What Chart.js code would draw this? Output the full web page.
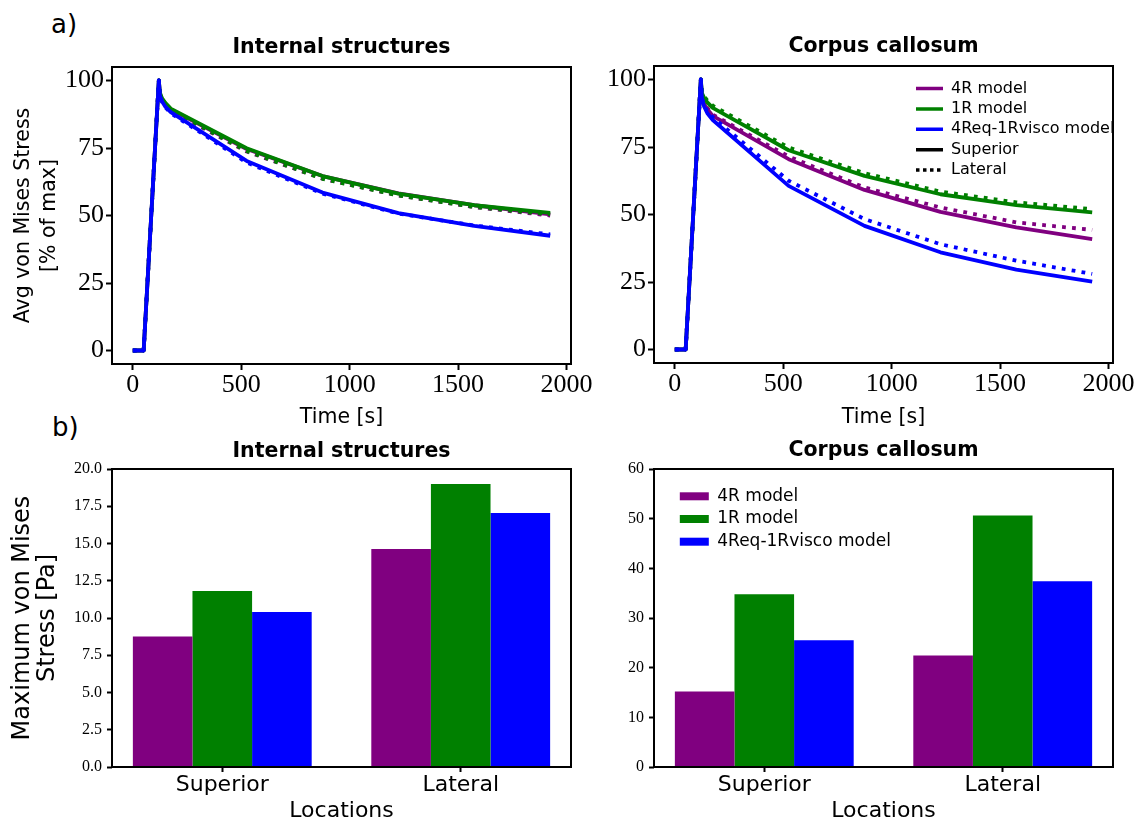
<!DOCTYPE html>
<html>
<head>
<meta charset="utf-8">
<script src="https://cdn.jsdelivr.net/npm/chart.js@4.4.1/dist/chart.umd.min.js"></script>
<style>
html, body { margin: 0; padding: 0; background: #fff; width: 1142px; height: 821px; overflow: hidden; position: relative; }
canvas { position: absolute; }
.lbl { position: absolute; font-family: 'DejaVu Sans', Verdana, sans-serif; font-size: 26px; line-height: 1; color: #000; white-space: nowrap; }
</style>
</head>
<body>
<div class="lbl" style="left:51px; top:11px;">a)</div>
<div class="lbl" style="left:52px; top:414px;">b)</div>
<canvas id="cA" width="600" height="440" style="left:0px; top:0px;"></canvas>
<canvas id="cB" width="562" height="440" style="left:580px; top:0px;"></canvas>
<canvas id="cC" width="600" height="405" style="left:0px; top:425px;"></canvas>
<canvas id="cD" width="562" height="405" style="left:580px; top:425px;"></canvas>
<script>
// ---------------- DATA ----------------
const models = ['4R model', '1R model', '4Req-1Rvisco model'];
const locations = ['Superior', 'Lateral'];
const modelColors = ['#800080', '#008000', '#0000ff'];

// a) Avg von Mises stress [% of max] vs time [s]
const timeS = [0, 50, 120, 125, 135, 150, 175, 525, 875, 1225, 1575, 1925];
// Internal structures
const intSup4R   = [0, 0, 100, 95.0, 93.0, 91.3, 89.3, 74.6, 64.6, 58.2, 53.8, 50.4];
const intSup1R   = [0, 0, 100, 95.5, 93.4, 91.7, 89.6, 74.9, 64.6, 58.1, 53.8, 51.0];
const intSup4Req = [0, 0, 100, 94.5, 92.2, 90.3, 88.3, 70.2, 58.5, 50.9, 46.2, 42.5];
const intLat4R   = [0, 0, 100, 95.0, 92.8, 91.0, 88.8, 73.7, 63.6, 57.4, 53.1, 50.0];
const intLat1R   = [0, 0, 100, 95.3, 93.1, 91.3, 89.1, 73.9, 63.6, 57.4, 53.2, 50.4];
const intLat4Req = [0, 0, 100, 94.3, 92.0, 90.0, 87.9, 69.6, 58.1, 50.7, 46.3, 43.0];
// Corpus callosum
const ccSup4R    = [0, 0, 100, 93.5, 91.0, 89.0, 86.5, 70.5, 59.1, 51.0, 45.2, 40.9];
const ccSup1R    = [0, 0, 100, 95.0, 93.2, 91.5, 89.5, 73.8, 64.3, 57.5, 53.5, 50.8];
const ccSup4Req  = [0, 0, 100, 93.0, 90.0, 87.5, 85.0, 60.6, 45.8, 36.0, 29.6, 25.1];
const ccLat4R    = [0, 0, 100, 94.0, 91.5, 89.5, 87.0, 71.5, 60.0, 52.6, 47.1, 44.3];
const ccLat1R    = [0, 0, 100, 95.5, 93.8, 92.2, 90.3, 74.8, 65.3, 58.5, 54.5, 52.0];
const ccLat4Req  = [0, 0, 100, 93.3, 90.5, 88.2, 86.0, 62.5, 48.3, 39.0, 32.9, 28.0];

// b) Maximum von Mises stress [Pa] per location (Superior, Lateral)
const intMax4R   = [8.76, 14.63];
const intMax1R   = [11.81, 19.0];
const intMax4Req = [10.40, 17.04];
const ccMax4R    = [15.2, 22.45];
const ccMax1R    = [34.8, 50.66];
const ccMax4Req  = [25.5, 37.42];

// tick values
const timeTicks = [0, 500, 1000, 1500, 2000];
const pctTicks = [0, 25, 50, 75, 100];
const intBarTicks = [0, 2.5, 5, 7.5, 10, 12.5, 15, 17.5, 20];
const ccBarTicks = [0, 10, 20, 30, 40, 50, 60];
const locTicks = [0, 1];

// ---------------- STYLE ----------------
const SERIF = "'Liberation Serif', 'Times New Roman', serif";
const SANS = "'DejaVu Sans', Verdana, sans-serif";
Chart.defaults.color = '#000';
Chart.defaults.font.family = SANS;
Chart.defaults.animation = false;
const LW = 3.8;
const DOTS = [3.8, 6.2];

const frame = {
  id: 'frame',
  afterDatasetsDraw(chart) {
    const { ctx, chartArea: a } = chart;
    ctx.save();
    ctx.strokeStyle = '#000';
    ctx.lineWidth = 2;
    ctx.strokeRect(a.left, a.top, a.right - a.left, a.bottom - a.top);
    ctx.restore();
  }
};
const legendPlace = {
  id: 'legendPlace',
  afterLayout(chart, args, opts) {
    const lg = chart.legend;
    if (!lg || opts.x === undefined) return;
    const pad = lg.options.labels.padding;
    const dx = opts.x - pad - lg.left, dy = opts.y - pad - lg.top;
    lg.left += dx; lg.right += dx; lg.top += dy; lg.bottom += dy;
  }
};

function tickGrid(len) {
  return { display: true, drawOnChartArea: false, drawTicks: true, tickLength: len, tickWidth: 2, tickColor: '#000', offset: false };
}

function lineChart(id, sup, lat, cfg) {
  const datasets = [];
  models.forEach((m, i) => {
    datasets.push({
      label: m + ' - ' + locations[0],
      data: timeS.map((t, k) => ({ x: t, y: sup[i][k] })),
      borderColor: modelColors[i], backgroundColor: modelColors[i],
      borderWidth: LW, pointRadius: 0, fill: false, tension: 0,
      borderCapStyle: 'butt', borderJoinStyle: 'round'
    });
    datasets.push({
      label: m + ' - ' + locations[1],
      data: timeS.map((t, k) => ({ x: t, y: lat[i][k] })),
      borderColor: modelColors[i], backgroundColor: modelColors[i],
      borderWidth: LW, borderDash: DOTS, pointRadius: 0, fill: false, tension: 0,
      borderCapStyle: 'butt', borderJoinStyle: 'round'
    });
  });
  datasets.forEach((d, i) => { d.order = datasets.length - i; });

  const legendOpts = cfg.legend ? {
    display: true, position: 'chartArea', fullSize: false, align: 'start',
    labels: {
      font: { family: SANS, size: 16 }, usePointStyle: true, pointStyleWidth: 27, boxHeight: 16,
      padding: 4.4, color: '#000',
      generateLabels: () => [
        ...models.map((m, i) => ({ text: m, strokeStyle: modelColors[i], fillStyle: modelColors[i], lineWidth: 3.5, lineDash: [], lineCap: 'butt', pointStyle: 'line', hidden: false, fontColor: '#000', datasetIndex: 2 * i })),
        ...locations.map((l, i) => ({ text: l, strokeStyle: '#000', fillStyle: '#000', lineWidth: 3.5, lineDash: i ? [3.5, 3.5] : [], lineCap: 'butt', pointStyle: 'line', hidden: false, fontColor: '#000' }))
      ]
    }
  } : { display: false };

  return new Chart(document.getElementById(id), {
    type: 'line',
    data: { datasets },
    plugins: [frame, legendPlace],
    options: {
      responsive: false, maintainAspectRatio: false, animation: false,
      layout: { padding: { left: 0, top: 0, right: cfg.padRight, bottom: 0 } },
      plugins: {
        legend: legendOpts,
        legendPlace: cfg.legend ? cfg.legend : {},
        tooltip: { enabled: false },
        title: {
          display: true, text: cfg.title, fullSize: false, color: '#000',
          font: { family: SANS, size: 20.5, weight: 'bold', lineHeight: 1.2 },
          padding: { top: cfg.titleTop, bottom: cfg.titleBottom }
        }
      },
      scales: {
        x: {
          type: 'linear', min: -96, max: 2021, offset: false,
          afterBuildTicks: s => { s.ticks = timeTicks.map(v => ({ value: v })); },
          afterFit: s => { s.height = cfg.xH; },
          ticks: { font: { family: SERIF, size: 26, lineHeight: 1 }, padding: 2, maxRotation: 0, autoSkip: false, color: '#000', callback: v => String(v) },
          grid: tickGrid(6),
          border: { display: false },
          title: { display: true, text: 'Time [s]', color: '#000', font: { family: SANS, size: 20.5, lineHeight: 1.2 }, padding: { top: 0, bottom: cfg.xTitlePad } }
        },
        y: {
          type: 'linear', min: -5, max: 105,
          afterBuildTicks: s => { s.ticks = pctTicks.map(v => ({ value: v })); },
          afterFit: s => { s.width = cfg.yW; },
          ticks: { font: { family: SERIF, size: 26, lineHeight: 1 }, padding: 2, color: '#000', callback: v => String(v) },
          grid: tickGrid(6),
          border: { display: false },
          title: cfg.yTitle ? { display: true, text: cfg.yTitle, color: '#000', font: { family: SANS, size: 20.5, lineHeight: 1.25 }, padding: { top: cfg.yTitlePad, bottom: 0 } } : { display: false }
        }
      }
    }
  });
}

function barChart(id, vals, cfg) {
  const datasets = models.map((m, i) => ({
    label: m,
    data: locations.map((_, k) => ({ x: k, y: vals[i][k] })),
    backgroundColor: modelColors[i], borderWidth: 0,
    categoryPercentage: 0.75, barPercentage: 1.0
  }));
  const legendOpts = cfg.legend ? {
    display: true, position: 'chartArea', fullSize: false, align: 'start',
    labels: { font: { family: SANS, size: 17 }, boxWidth: 29, boxHeight: 8, padding: 5.7, color: '#000' }
  } : { display: false };
  return new Chart(document.getElementById(id), {
    type: 'bar',
    data: { datasets },
    plugins: [frame, legendPlace],
    options: {
      responsive: false, maintainAspectRatio: false, animation: false,
      layout: { padding: { left: 0, top: 0, right: cfg.padRight, bottom: 0 } },
      plugins: {
        legend: legendOpts,
        legendPlace: cfg.legend ? cfg.legend : {},
        tooltip: { enabled: false },
        title: {
          display: true, text: cfg.title, fullSize: false, color: '#000',
          font: { family: SANS, size: 20.5, weight: 'bold', lineHeight: 1.2 },
          padding: { top: cfg.titleTop, bottom: cfg.titleBottom }
        }
      },
      scales: {
        x: {
          type: 'linear', min: -0.4625, max: 1.4625, offset: false,
          afterBuildTicks: s => { s.ticks = locTicks.map(v => ({ value: v })); },
          afterFit: s => { s.height = cfg.xH; },
          ticks: { font: { family: SANS, size: 22, lineHeight: 1.2 }, padding: 0, maxRotation: 0, autoSkip: false, color: '#000',
                   callback: v => (locations[v] !== undefined ? locations[v] : '') },
          grid: tickGrid(5),
          border: { display: false },
          title: { display: true, text: 'Locations', color: '#000', font: { family: SANS, size: 22, lineHeight: 1.2 }, padding: { top: 0, bottom: 5.8 } }
        },
        y: {
          type: 'linear', min: 0, max: cfg.yMax,
          afterBuildTicks: s => { s.ticks = cfg.yTicks.map(v => ({ value: v })); },
          afterFit: s => { s.width = cfg.yW; },
          ticks: { font: { family: SERIF, size: 16, lineHeight: 1 }, padding: 5, color: '#000', callback: cfg.yFmt },
          grid: tickGrid(5),
          border: { display: false },
          title: cfg.yTitle ? { display: true, text: cfg.yTitle, color: '#000', font: { family: SANS, size: 24, lineHeight: 1.05 }, padding: { top: 9.9, bottom: 0 } } : { display: false }
        }
      }
    }
  });
}

lineChart('cA', [intSup4R, intSup1R, intSup4Req], [intLat4R, intLat1R, intLat4Req], {
  title: 'Internal structures', titleTop: 35.7, titleBottom: 6.7, padRight: 29, yW: 112, xH: 76, xTitlePad: 9.7,
  yTitle: ['Avg von Mises Stress', '[% of max]'], yTitlePad: 10.8
});
lineChart('cB', [ccSup4R, ccSup1R, ccSup4Req], [ccLat4R, ccLat1R, ccLat4Req], {
  title: 'Corpus callosum', titleTop: 34.7, titleBottom: 6.7, padRight: 29, yW: 74, xH: 77, xTitlePad: 9.7,
  yTitle: null, legend: { x: 336, y: 80.5 }
});
barChart('cC', [intMax4R, intMax1R, intMax4Req], {
  title: 'Internal structures', titleTop: 14.7, titleBottom: 4.7, padRight: 29, yW: 112, xH: 63,
  yMax: 20, yTicks: intBarTicks, yFmt: v => v.toFixed(1), yTitle: ['Maximum von Mises', 'Stress [Pa]']
});
barChart('cD', [ccMax4R, ccMax1R, ccMax4Req], {
  title: 'Corpus callosum', titleTop: 13.7, titleBottom: 5.7, padRight: 29, yW: 74, xH: 63,
  yMax: 60, yTicks: ccBarTicks, yFmt: v => String(v), yTitle: null, legend: { x: 99.8, y: 62.8 }
});
</script>
</body>
</html>
